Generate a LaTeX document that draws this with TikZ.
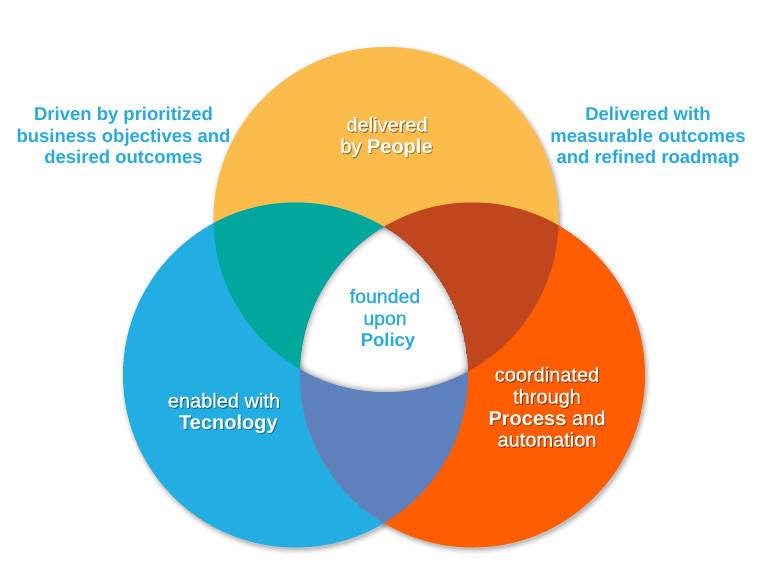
\documentclass[tikz,border=0pt]{standalone}
\usepackage{fontspec}
\setmainfont{Liberation Sans}
\newfontfamily\medf[FakeBold=0.6]{Liberation Sans}
\definecolor{cYel}{RGB}{252,188,76}
\definecolor{cBlu}{RGB}{34,174,226}
\definecolor{cOra}{RGB}{255,93,0}
\definecolor{cTeal}{RGB}{0,167,157}
\definecolor{cRed}{RGB}{192,70,30}
\definecolor{cPur}{RGB}{94,129,190}
\definecolor{cTxt}{RGB}{38,170,225}
\newcommand\bfw[1]{{\normalfont\bfseries #1}}
\newcommand\wtxt[4]{%
  \node[wsh] (#1s) at (#2+1,#3+1.2) {#4};
  \node[wt] (#1) at (#2,#3) {#4};}
\begin{document}
\begin{tikzpicture}[x=1pt,y=-1pt,
  txt/.style={font=\fontsize{18.5}{22}\selectfont, anchor=base, inner sep=0pt},
  btxt/.style={txt, text=cTxt, font=\fontsize{18.5}{22}\selectfont\bfseries},
  ctxt/.style={txt, text=cTxt, font=\fontsize{19.5}{22}\selectfont\medf},
  wt/.style={txt, text=white, font=\fontsize{20}{22}\selectfont\medf},
  wsh/.style={wt, text=black, opacity=0.35}]
\useasboundingbox (0,0) rectangle (768,576);
\fill[white] (0,0) rectangle (768,576);
\def\R{172.5pt}
\coordinate (Y) at (386,219.5);
\coordinate (B) at (295.5,375);
\coordinate (O) at (472.5,375);
% soft outer shadow
\foreach \k/\op in {0/0.10,1.5/0.07,3/0.05,4.5/0.03}{
  \fill[black, opacity=\op] ([shift={(1.5,2.5)}]B) circle[radius=172.5pt+\k pt];
  \fill[black, opacity=\op] ([shift={(1.5,2.5)}]O) circle[radius=172.5pt+\k pt];
  \fill[black, opacity=\op] ([shift={(1.5,2.5)}]Y) circle[radius=172.5pt+\k pt];
}
\fill[cYel] (Y) circle[radius=\R];
\fill[cBlu] (B) circle[radius=\R];
\fill[cOra] (O) circle[radius=\R];
\begin{scope}
  \clip (Y) circle[radius=\R];
  \fill[cTeal] (B) circle[radius=\R];
  \fill[cRed] (O) circle[radius=\R];
\end{scope}
\begin{scope}
  \clip (B) circle[radius=\R];
  \fill[cPur] (O) circle[radius=\R];
\end{scope}
\begin{scope}
  \clip (Y) circle[radius=\R];
  \clip (B) circle[radius=\R];
  \clip (O) circle[radius=\R];
  \fill[white] (B) circle[radius=\R];
  \foreach \w/\op in {12/0.04,8/0.05,5/0.06,2.5/0.08}{
    \draw[black, opacity=\op, line width=\w pt] (Y) circle[radius=\R];
    \draw[black, opacity=\op, line width=\w pt] (B) circle[radius=\R];
    \draw[black, opacity=\op, line width=\w pt] (O) circle[radius=\R];
  }
\end{scope}
% outer texts
\node[btxt] (l1) at (123.5,120.5) {Driven by prioritized};
\node[btxt] (l2) at (123.5,142) {business objectives and};
\node[btxt] (l3) at (123.5,163.5) {desired outcomes};
\node[btxt] (r1) at (648,120.5) {Delivered with};
\node[btxt] (r2) at (648,142) {measurable outcomes};
\node[btxt] (r3) at (648,163.5) {and refined roadmap};
% centre
\node[ctxt] (c1) at (385,303) {founded};
\node[ctxt] (c2) at (385,325) {upon};
\node[btxt] (c3) at (388,346.5) {Policy};
% white texts
\wtxt{t1}{387}{131.5}{delivered}
\wtxt{t2}{386.5}{153}{by \bfw{People}}
\wtxt{b1}{224}{407.5}{enabled with}
\wtxt{b2}{228.5}{429}{\bfw{Tecnology}}
\wtxt{o1}{547}{381.5}{coordinated}
\wtxt{o2}{547}{403.5}{through}
\wtxt{o3}{547}{425}{\bfw{Process} and}
\wtxt{o4}{547}{446.5}{automation}
\end{tikzpicture}
\end{document}
